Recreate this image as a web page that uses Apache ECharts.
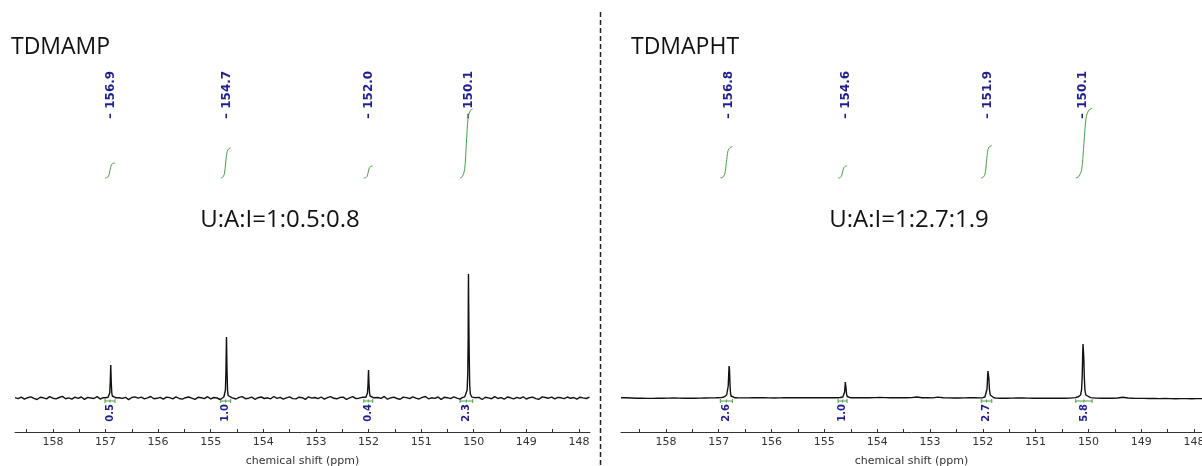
<!DOCTYPE html>
<html>
<head>
<meta charset="utf-8">
<script src="https://cdn.jsdelivr.net/npm/echarts@6/dist/echarts.min.js"></script>
<style>
  html, body { margin: 0; padding: 0; background: #ffffff; }
  #chart { width: 1202px; height: 466px; }
</style>
</head>
<body>
<div id="chart"></div>
<script>
// ---------- shared axis ----------
const shiftLabels = [148, 149, 150, 151, 152, 153, 154, 155, 156, 157, 158];
const shiftTickMarks = [147.5, 148, 148.5, 149, 149.5, 150, 150.5, 151, 151.5, 152, 152.5,
  153, 153.5, 154, 154.5, 155, 155.5, 156, 156.5, 157, 157.5, 158, 158.5];
const axisTitle = 'chemical shift (ppm)';

// ---------- TDMAMP spectrum ----------
const tdmampTitle = 'TDMAMP';
const tdmampRatio = 'U:A:I=1:0.5:0.8';
const tdmampPeakShifts = [156.9, 154.7, 152.0, 150.1];
const tdmampIntegrals = [0.5, 1.0, 0.4, 2.3];
const tdmampIntegralRanges = [[157.01, 156.82], [154.81, 154.62], [152.09, 151.92], [150.26, 150.02]];
const tdmampBaselineStart = 158.72;
const tdmampBaselineStep = 0.06;
const tdmampBaseline = [
  0.4, -0.6, 0.9, -1.2, 0.3, 1.1, -0.4, -1.5, 0.7, 0.2, -0.8, 1.3, -0.2, -0.9, 0.5, 1.6, -0.7, 0.1, -1.1, 0.8,
  -0.3, 1.0, -1.4, 0.6, 0.0, -0.5, 1.4, -1.0, 0.3, 0.9, -0.6, -1.3, 1.2, 0.2, -0.4, 0.7, -1.6, 0.5, 1.1, -0.2,
  0.8, -0.9, 0.1, 1.5, -0.7, -0.3, 0.6, -1.2, 0.9, 0.4, -0.8, 1.2, -0.5, -1.1, 0.3, 1.0, -0.1, -1.4, 0.7, 0.2,
  -0.6, 1.3, -0.9, 0.5, 0.0, -1.5, 1.1, 0.4, -0.3, 0.8, -1.0, 0.6, 1.4, -0.7, -0.2, 0.9, -1.3, 0.3, 1.0, -0.5,
  0.2, -0.8, 1.5, -0.4, 0.7, -1.2, 0.1, 1.1, -0.6, -0.9, 0.8, 0.3, -1.4, 1.2, -0.1, 0.5, -0.7, 1.0, -1.1, 0.4,
  1.3, -0.3, -0.8, 0.6, 0.9, -1.5, 0.2, 1.4, -0.6, -0.2, 0.7, -1.0, 1.1, 0.3, -0.9, 0.5, -0.4, 1.6, -1.2, 0.1,
  0.8, -0.5, -1.3, 0.9, 0.4, -0.7, 1.2, -0.1, -1.0, 0.6, 1.5, -0.8, 0.2, -0.4, 1.0, -1.4, 0.7, 0.3, -0.6, 1.1,
  -0.2, -1.1, 0.9, 0.5, -0.9, 1.3, -0.3, 0.6, -1.5, 0.8, 0.1, -0.7, 1.4, -0.5, 0.4, -1.2, 1.0, 0.2, -0.8, 0.7,
  -0.4, 1.2, -1.0, 0.3, 0.9, -0.6, -1.3, 1.1, 0.5, -0.2, 0.8, -0.9, 0.6, 0.2, -0.7, 1.0, -0.3, 0.5, -1.1, 0.8,
  0.1, -0.5, 0.9
];
const tdmampPeakProfiles = [
  [[157.0, 0.3], [156.95, 0.8], [156.93, 2], [156.92, 5], [156.91, 15], [156.903, 28], [156.9, 33], [156.897, 28], [156.89, 15], [156.88, 5], [156.87, 2], [156.85, 0.8], [156.8, 0.2]],
  [[154.8, 0.4], [154.75, 1], [154.73, 2.5], [154.72, 8], [154.71, 28], [154.703, 52], [154.7, 61], [154.697, 52], [154.69, 28], [154.68, 8], [154.67, 2.5], [154.65, 1], [154.6, 0.3]],
  [[152.1, 0.2], [152.05, 0.8], [152.03, 2], [152.02, 5], [152.01, 13], [152.003, 24], [152.0, 28], [151.997, 24], [151.99, 13], [151.98, 5], [151.97, 2], [151.95, 0.7], [151.9, 0.2]],
  [[150.22, 0.4], [150.17, 1.2], [150.14, 3], [150.125, 8], [150.113, 25], [150.106, 62], [150.102, 110], [150.1, 124], [150.097, 100], [150.092, 72], [150.085, 40], [150.077, 14], [150.065, 4], [150.04, 1.2], [149.98, 0.3]]
];

// ---------- TDMAPHT spectrum ----------
const tdmaphtTitle = 'TDMAPHT';
const tdmaphtRatio = 'U:A:I=1:2.7:1.9';
const tdmaphtPeakShifts = [156.8, 154.6, 151.9, 150.1];
const tdmaphtIntegrals = [2.6, 1.0, 2.7, 5.8];
const tdmaphtIntegralRanges = [[156.97, 156.74], [154.74, 154.57], [152.03, 151.83], [150.24, 149.93]];
const tdmaphtBaselineStart = 158.85;
const tdmaphtBaselineStep = 0.1;
const tdmaphtBaseline = [
  0.3, 0.2, 0.0, -0.2, -0.3, -0.4, -0.4, -0.3, -0.2, -0.1, 0.0,
  -0.1, -0.2, -0.3, -0.2, -0.1, 0.0, 0.1, 0.2, 0.3, 0.4,
  0.3, 0.2, 0.1, 0.1, 0.2, 0.3, 0.2, 0.1, 0.0, 0.1,
  0.2, 0.3, 0.4, 0.3, 0.2, 0.2, 0.3, 0.4, 0.3, 0.2,
  0.3, 0.4, 0.5, 0.4, 0.3, 0.2, 0.3, 0.4, 0.5, 0.4,
  0.3, 0.2, 0.3, 0.2, 0.4, 1.0, 0.3, 0.2, 0.1, 0.9,
  0.2, 0.1, 0.0, 0.0, 0.1, 0.2, 0.2, 0.1, 0.0, 0.0,
  -0.1, -0.2, -0.2, -0.1, 0.0, 0.0, -0.1, -0.2, -0.3, -0.2,
  -0.2, -0.3, -0.3, -0.2, -0.1, 0.0, 0.0, -0.1, -0.2, -0.1,
  -0.2, -0.3, -0.2, 0.0, 0.8, 0.0, -0.3, -0.4, -0.4, -0.5,
  -0.5, -0.6, -0.5, -0.6, -0.7, -0.6, -0.6, -0.7, -0.6, -0.6
];
const tdmaphtPeakProfiles = [
  [[156.95, 0.4], [156.9, 1], [156.87, 2], [156.85, 3], [156.835, 5], [156.82, 12], [156.81, 25], [156.803, 32], [156.8, 34], [156.795, 28], [156.787, 14], [156.777, 5], [156.765, 2], [156.745, 1], [156.7, 0.3]],
  [[154.7, 0.5], [154.65, 1], [154.63, 2.5], [154.617, 6], [154.608, 12], [154.603, 16], [154.6, 17], [154.596, 15], [154.59, 10], [154.58, 4], [154.567, 1.5], [154.55, 0.7], [154.5, 0.2]],
  [[152.0, 0.3], [151.96, 1], [151.935, 3], [151.92, 9], [151.91, 20], [151.903, 27], [151.9, 29], [151.894, 28], [151.886, 20], [151.875, 9], [151.86, 3], [151.84, 1.2], [151.79, 0.3]],
  [[150.25, 0.4], [150.19, 1.2], [150.15, 3], [150.13, 8], [150.118, 22], [150.108, 45], [150.102, 54], [150.1, 55], [150.096, 52], [150.088, 40], [150.078, 20], [150.066, 8], [150.05, 3], [150.02, 1.2], [149.96, 0.4]]
];

// shape of a running integral across its range (fraction of range, fraction of area)
const integralShape = [[0, 0], [0.18, 0.02], [0.36, 0.12], [0.5, 0.5], [0.64, 0.88], [0.82, 0.98], [1, 1]];

// ---------- layout ----------
const GRID_TOP = 60, GRID_BOTTOM_Y = 432, INTEGRAL_ZERO_Y = 178;
const SPEC_MIN = -34, SPEC_MAX = 338;       // intensity window of the spectrum trace
const PEAK_LABEL_LEVEL = 279;                // intensity level where the shift labels start
const BRACKET_LEVEL = -3;                    // intensity level of the integration brackets
const NAVY = '#1f1f8c', GREEN = '#4a9e4a';

const panels = [
  { title: tdmampTitle, ratio: tdmampRatio, shifts: tdmampPeakShifts, integrals: tdmampIntegrals,
    ranges: tdmampIntegralRanges, start: tdmampBaselineStart, step: tdmampBaselineStep,
    baseline: tdmampBaseline, profiles: tdmampPeakProfiles,
    left: 15, width: 575, xMin: 147.79, xMax: 158.72, integralPx: 30, titleX: 11, ratioX: 280 },
  { title: tdmaphtTitle, ratio: tdmaphtRatio, shifts: tdmaphtPeakShifts, integrals: tdmaphtIntegrals,
    ranges: tdmaphtIntegralRanges, start: tdmaphtBaselineStart, step: tdmaphtBaselineStep,
    baseline: tdmaphtBaseline, profiles: tdmaphtPeakProfiles,
    left: 621, width: 581, xMin: 147.85, xMax: 158.85, integralPx: 12, titleX: 631, ratioX: 909 }
];

function buildSpectrum(p) {
  const windows = p.profiles.map(pr => [Math.min(...pr.map(q => q[0])), Math.max(...pr.map(q => q[0]))]);
  const pts = [];
  p.baseline.forEach((v, i) => {
    const x = +(p.start - i * p.step).toFixed(3);
    if (!windows.some(w => x >= w[0] && x <= w[1])) pts.push([x, v]);
  });
  p.profiles.forEach(pr => pr.forEach(q => pts.push([q[0], q[1]])));
  pts.sort((a, b) => b[0] - a[0]);
  return pts;
}

function buildIntegralCurves(p) {
  const data = [];
  p.ranges.forEach((r, k) => {
    if (k > 0) data.push(['-', '-']);
    integralShape.forEach(s => data.push([r[0] - s[0] * (r[0] - r[1]), s[1] * p.integrals[k]]));
  });
  return data;
}

const grid = [], xAxis = [], yAxis = [], series = [], graphic = [];
const plotH = GRID_BOTTOM_Y - GRID_TOP;

panels.forEach((p, g) => {
  grid.push({ left: p.left, width: p.width, top: GRID_TOP, height: plotH,
    containLabel: false, outerBoundsMode: 'none' });
  xAxis.push({
    type: 'value', gridIndex: g, inverse: true, min: p.xMin, max: p.xMax,
    name: axisTitle, nameLocation: 'middle', nameGap: 24,
    nameTextStyle: { color: '#333', fontSize: 11, fontFamily: 'DejaVu Sans' },
    axisLine: { onZero: false, lineStyle: { color: '#333', width: 1 } },
    axisTick: { show: true, inside: true, length: 3, customValues: shiftTickMarks, lineStyle: { color: '#333' } },
    axisLabel: { customValues: shiftLabels, color: '#333', fontSize: 11, fontFamily: 'DejaVu Sans', margin: 5,
      hideOverlap: false },
    splitLine: { show: false }
  });
  yAxis.push({ type: 'value', gridIndex: g, min: SPEC_MIN, max: SPEC_MAX, show: false });
  const intMin = -(GRID_BOTTOM_Y - INTEGRAL_ZERO_Y) / p.integralPx;
  const intMax = (INTEGRAL_ZERO_Y - GRID_TOP) / p.integralPx;
  yAxis.push({ type: 'value', gridIndex: g, min: intMin, max: intMax, show: false });

  // spectrum trace
  series.push({
    type: 'line', xAxisIndex: g, yAxisIndex: 2 * g, data: buildSpectrum(p),
    showSymbol: false, symbol: 'none', silent: true, animation: false,
    lineStyle: { color: '#111', width: 1.4 }
  });

  // running integrals
  series.push({
    type: 'line', xAxisIndex: g, yAxisIndex: 2 * g + 1, data: buildIntegralCurves(p),
    showSymbol: false, symbol: 'none', smooth: 0.3, connectNulls: false, silent: true, animation: false,
    lineStyle: { color: GREEN, width: 1 }
  });

  // peak shift labels
  series.push({
    type: 'custom', xAxisIndex: g, yAxisIndex: 2 * g, animation: false, silent: true,
    data: p.shifts.map(s => [s, PEAK_LABEL_LEVEL]),
    renderItem: (params, api) => {
      const pt = api.coord([api.value(0), api.value(1)]);
      return {
        type: 'text', x: pt[0], y: pt[1], rotation: Math.PI / 2,
        style: { text: '\u2013 ' + api.value(0).toFixed(1), fill: NAVY,
          font: 'bold 12px "DejaVu Sans"', align: 'left', verticalAlign: 'middle' }
      };
    }
  });

  // integration brackets and values
  series.push({
    type: 'custom', xAxisIndex: g, yAxisIndex: 2 * g, animation: false, silent: true,
    data: p.ranges.map((r, k) => [r[0], r[1], p.integrals[k]]),
    renderItem: (params, api) => {
      const a = api.coord([api.value(0), BRACKET_LEVEL]);
      const b = api.coord([api.value(1), BRACKET_LEVEL]);
      const mid = (a[0] + b[0]) / 2;
      const st = { stroke: GREEN, lineWidth: 1 };
      return {
        type: 'group', children: [
          { type: 'line', shape: { x1: a[0], y1: a[1], x2: b[0], y2: b[1] }, style: st },
          { type: 'line', shape: { x1: a[0], y1: a[1] - 2, x2: a[0], y2: a[1] + 2 }, style: st },
          { type: 'line', shape: { x1: b[0], y1: b[1] - 2, x2: b[0], y2: b[1] + 2 }, style: st },
          { type: 'line', shape: { x1: mid, y1: a[1] - 1.5, x2: mid, y2: a[1] + 1.5 }, style: st },
          { type: 'text', x: mid, y: a[1] + 3, rotation: Math.PI / 2,
            style: { text: api.value(2).toFixed(1), fill: NAVY, font: 'bold 10px "DejaVu Sans"',
              align: 'right', verticalAlign: 'middle' } }
        ]
      };
    }
  });

  graphic.push({ type: 'text', left: p.titleX, top: 36,
    style: { text: p.title, fill: '#111', font: '23px "Open Sans"' } });
  graphic.push({ type: 'text', x: p.ratioX, y: 220,
    style: { text: p.ratio, fill: '#111', font: '24px "Open Sans"', align: 'center', verticalAlign: 'middle' } });
});

// divider between the two spectra
graphic.push({ type: 'line', shape: { x1: 600.5, y1: 12, x2: 600.5, y2: 466 },
  style: { stroke: '#222', lineWidth: 1.5, lineDash: [5, 3] } });

const chart = echarts.init(document.getElementById('chart'), null, { renderer: 'canvas' });
chart.setOption({ backgroundColor: '#ffffff', animation: false, grid, xAxis, yAxis, series, graphic });
</script>
</body>
</html>
